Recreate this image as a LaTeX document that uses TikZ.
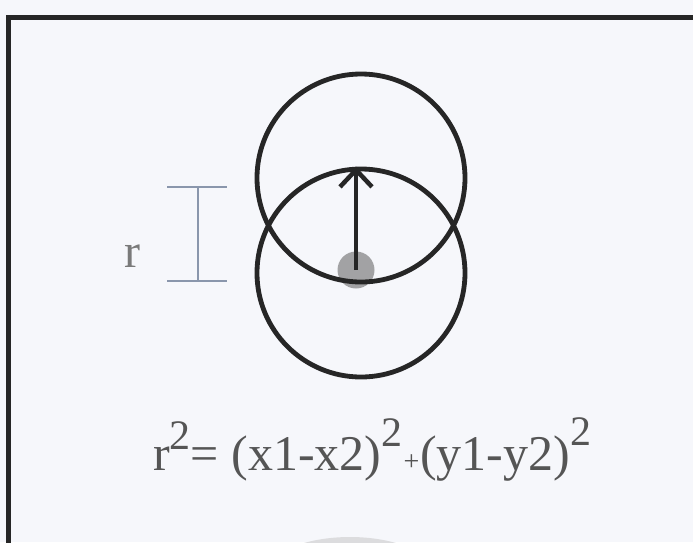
\documentclass[tikz,border=0pt]{standalone}
\usepackage{fontspec}
\setmainfont{Liberation Serif}
\usepackage{xcolor}
\definecolor{ink}{HTML}{262626}
\definecolor{paper}{HTML}{F6F7FB}
\definecolor{mute}{HTML}{555555}
\definecolor{soft}{HTML}{7A7A7A}
\definecolor{rule}{HTML}{8A96AC}
\definecolor{blob}{HTML}{A2A2A4}
\definecolor{haze}{HTML}{DCDCDE}
\usetikzlibrary{arrows.meta,positioning}
\newcommand\suptwo[1][24]{\raisebox{#1pt}{\fontsize{42}{42}\selectfont 2}}
\tikzset{
  >={Straight Barb[length=17pt,width=32pt]},
  ring/.style={circle,draw=ink,line width=4.8pt,minimum size=208pt,inner sep=0pt},
  arr/.style={->,draw=ink,line width=4.5pt},
  tick/.style={draw=rule,line width=1.3pt},
  frame/.style={draw=ink,line width=5pt},
  lab/.style={text=soft,font=\fontsize{48}{50}\selectfont,inner sep=0pt},
  eqn/.style={text=mute,font=\fontsize{50}{54}\selectfont,inner sep=0pt},
}
\begin{document}
\begin{tikzpicture}[x=1pt,y=-1pt]
\useasboundingbox (0,0) rectangle (693,542);
\clip (0,0) rectangle (693,542);
\fill[paper] (0,0) rectangle (693,542);
\fill[haze] (350,585) ellipse (95 and 48);
\draw[frame] (8,560) -- (8,17) -- (710,17);
% point and its two circles
\node[circle,fill=blob,minimum size=37pt,inner sep=0pt] (dot) at (356,270) {};
\node[ring] (up) at (361,178) {};
\node[ring] (low) at (361,273) {};
\draw[arr] (dot.center) -- (dot.center |- low.north);
% radius marker
\draw[tick] (167,187) -- (227,187) (198,187) -- (198,281) (167,281) -- (227,281);
\node[lab,anchor=base east] (r) at (141,267) {r};
\node[eqn,anchor=base west] (eq) at (153,470)
  {r\suptwo[21]= (x1-x2)\suptwo\kern1pt{\fontsize{28}{28}\selectfont+}\kern1pt(y1-y2)\suptwo[25]};
\end{tikzpicture}
\end{document}
